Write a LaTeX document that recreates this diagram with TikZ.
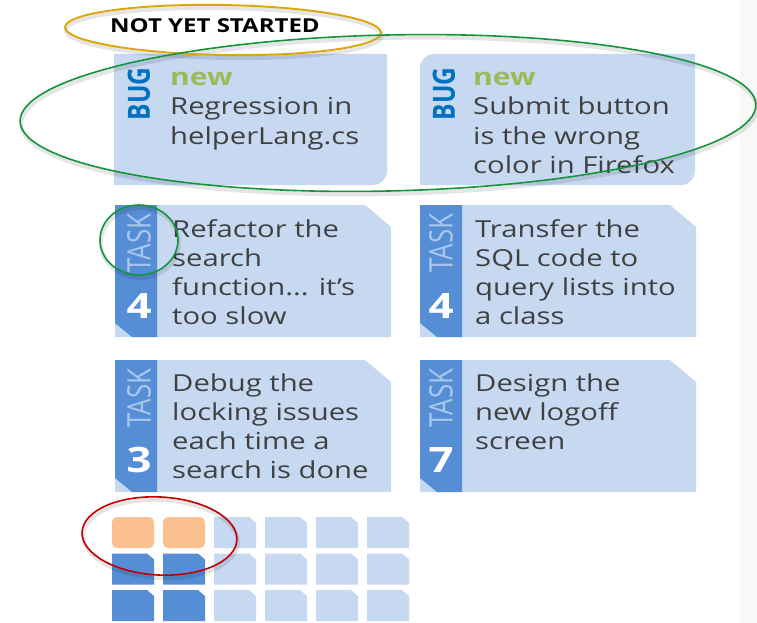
\documentclass[tikz,border=0pt]{standalone}
\usepackage{fontspec}
\setmainfont{Open Sans}
\newfontfamily\cf[FakeStretch=1.25]{Open Sans}
\newfontfamily\cfn{Open Sans}
\definecolor{cardbg}{HTML}{C6D9F1}
\definecolor{stripblue}{HTML}{558ED5}
\definecolor{tasklbl}{HTML}{A9C6EE}
\definecolor{bugblue}{HTML}{0070C0}
\definecolor{newgreen}{HTML}{9BBB59}
\definecolor{bodygrey}{HTML}{404040}
\definecolor{tileorange}{HTML}{FAC090}
\definecolor{ringgold}{HTML}{DBA60A}
\definecolor{ringgreen}{HTML}{14933C}
\definecolor{ringred}{HTML}{C00000}
\definecolor{sidegrey}{HTML}{F8F8F8}
\newcommand\threedots{...}
\newcommand\cardlines[4]{%
  \foreach \t [count=\i] in {#4} {\node[bodytext, name=#3-\i] at (#1, {#2+29*(\i-1)}) {\t};}}
\begin{document}
\begin{tikzpicture}[x=1pt,y=-1pt,
  bodytext/.style={font=\cf\fontsize{23.4}{29}\selectfont, text=bodygrey, anchor=base west, inner sep=0pt},
  newlbl/.style={font=\cf\bfseries\fontsize{24}{29}\selectfont, text=newgreen, anchor=base west, inner sep=0pt},
  buglbl/.style={font=\cfn\bfseries\fontsize{24.5}{24}\selectfont, text=bugblue, inner sep=0pt, xscale=1.25, rotate=90},
  tasklabel/.style={font=\cfn\fontsize{26}{26}\selectfont, text=tasklbl, inner sep=0pt, xscale=1.25, rotate=90},
  numlbl/.style={font=\cf\bfseries\fontsize{35}{35}\selectfont, text=white, anchor=base, inner sep=0pt},
  ring/.style={line width=1.6pt},
  ringshadow/.style={line width=4pt, black, opacity=0.1},
  taskcard/.pic={
    \fill[cardbg] (0,0) -- (250,0) -- (276,22) -- (276,132) -- (0,132) -- cycle;
    \fill[stripblue] (0,0) -- (42,0) -- (42,132) -- (17,132) -- (0,118) -- cycle;
  },
  tilelight/.pic={\fill[cardbg] (0,0) -- (35,0) -- (42,6) -- (42,31) -- (0,31) -- cycle;},
  tiledark/.pic={\fill[stripblue] (0,0) -- (35,0) -- (42,6) -- (42,31) -- (0,31) -- cycle;},
  tileorange/.pic={\fill[tileorange, rounded corners=5pt] (0,0) rectangle (42,31);}
]
\useasboundingbox (0,0) rectangle (757,623);
\fill[white] (0,0) rectangle (757,623);
\fill[sidegrey] (740,0) rectangle (757,623);

% header
\node[font=\cf\bfseries\fontsize{19.2}{20}\selectfont, anchor=base west, inner sep=0pt] (hdr) at (110,33) {NOT YET STARTED};

% bug cards
\fill[cardbg] (114,54) -- (387,54) -- (387,171) .. controls (387,178.7) and (380.7,185) .. (373,185) -- (114,185) -- cycle;
\fill[cardbg] (434,54) -- (695,54) -- (695,171) .. controls (695,178.7) and (688.7,185) .. (681,185) -- (420,185) -- (420,68) .. controls (420,60.3) and (426.3,54) .. (434,54) -- cycle;
\node[buglbl] (bug1) at (139,94) {BUG};
\node[buglbl] (bug2) at (444,94) {BUG};
\node[newlbl] (new1) at (170,86) {new};
\node[newlbl] (new2) at (473,86) {new};
\cardlines{170}{115}{b1}{Regression in, helperLang.cs}
\cardlines{473}{115}{b2}{Submit button, is the wrong, color in Firefox}

% task cards
\pic at (115,205) {taskcard};
\pic at (420,205) {taskcard};
\pic at (115,360) {taskcard};
\pic at (420,360) {taskcard};
\node[tasklabel] (tk1) at (139,243) {TASK};
\node[tasklabel] (tk2) at (441,243) {TASK};
\node[tasklabel] (tk3) at (139,398) {TASK};
\node[tasklabel] (tk4) at (441,398) {TASK};
\node[numlbl] (n1) at (139,318) {4};
\node[numlbl] (n2) at (441,318) {4};
\node[numlbl] (n3) at (139,472) {3};
\node[numlbl] (n4) at (441,472) {7};
\cardlines{172}{237}{t1}{Refactor the, search, function\threedots{} it’s, too slow}
\cardlines{475}{237}{t2}{Transfer the, SQL code to, query lists into, a class}
\cardlines{172}{391}{t3}{Debug the, locking issues, each time a, search is done}
\cardlines{475}{391}{t4}{Design the, new logoff, screen}

% tile grid
\foreach \c in {0,1} {
  \pic at ({112+51*\c},517) {tileorange};
  \pic at ({112+51*\c},553.5) {tiledark};
  \pic at ({112+51*\c},590) {tiledark};
}
\foreach \c in {2,3,4,5} {
  \pic at ({112+51*\c},517) {tilelight};
  \pic at ({112+51*\c},553.5) {tilelight};
  \pic at ({112+51*\c},590) {tilelight};
}

% annotation rings
\begin{scope}[shift={(1,3)}]
\draw[ringshadow, rotate around={-1:(223,30)}] (223,30) ellipse [x radius=158pt, y radius=25pt];
\draw[ringshadow, rotate around={1.3:(388,113)}] (388,113) ellipse [x radius=368pt, y radius=78pt];
\draw[ringshadow] (139,240) ellipse [x radius=39pt, y radius=35pt];
\draw[ringshadow, rotate around={-3:(159.5,536)}] (159.5,536) ellipse [x radius=77.5pt, y radius=39pt];
\end{scope}
\draw[ring, line width=1.9pt, ringgold, rotate around={-1:(223,30)}] (223,30) ellipse [x radius=158pt, y radius=25pt];
\draw[ring, ringgreen, rotate around={1.3:(388,113)}] (388,113) ellipse [x radius=368pt, y radius=78pt];
\draw[ring, ringgreen] (139,240) ellipse [x radius=39pt, y radius=35pt];
\draw[ring, ringred, rotate around={-3:(159.5,536)}] (159.5,536) ellipse [x radius=77.5pt, y radius=39pt];
\end{tikzpicture}
\end{document}
